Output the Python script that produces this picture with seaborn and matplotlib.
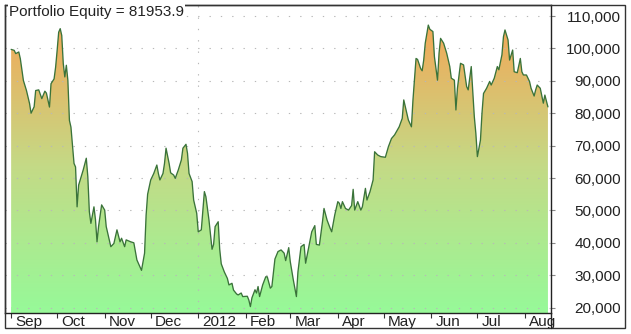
import numpy as np
import pandas as pd
import matplotlib
matplotlib.use("Agg")
import matplotlib.pyplot as plt
import seaborn as sns
import matplotlib.dates as mdates
import matplotlib.transforms as mtransforms
from matplotlib.colors import LinearSegmentedColormap
from matplotlib.ticker import FuncFormatter
from matplotlib.patches import Rectangle
from matplotlib.lines import Line2D

# ---------------- data ----------------
start_date = "2011-09-01"
day_offsets = [
    0, 2, 3, 5, 6, 8, 10, 12, 13, 15, 16, 18, 20, 22, 23, 25, 26, 28, 29, 30,
    31, 32, 33, 34, 35, 36, 37, 38, 39, 41, 42, 43, 44, 45, 47, 49, 50, 51, 52, 54,
    55, 56, 57, 59, 61, 62, 65, 67, 69, 71, 72, 74, 75, 78, 80, 82, 85, 87, 88, 89,
    91, 93, 95, 96, 97, 99, 100, 101, 103, 104, 106, 107, 109, 111, 112, 114, 115, 116, 118, 119,
    121, 122, 124, 125, 126, 127, 129, 131, 132, 133, 135, 136, 137, 139, 141, 142, 144, 145, 147, 148,
    150, 151, 154, 155, 156, 157, 159, 160, 161, 162, 164, 166, 167, 169, 170, 172, 174, 176, 178, 179,
    181, 182, 184, 186, 187, 189, 191, 192, 195, 196, 198, 199, 201, 203, 204, 206, 208, 209, 211, 213,
    214, 215, 216, 218, 220, 222, 223, 224, 226, 228, 229, 231, 232, 234, 236, 237, 239, 241, 244, 246,
    248, 250, 253, 255, 256, 258, 259, 261, 262, 264, 265, 267, 268, 269, 270, 272, 273, 275, 276, 278,
    279, 280, 282, 284, 286, 287, 289, 290, 291, 293, 295, 297, 298, 300, 301, 302, 303, 304, 306, 307,
    308, 310, 312, 313, 315, 317, 318, 320, 321, 322, 324, 325, 327, 328, 330, 332, 333, 334, 336, 338,
    339, 341, 342, 343, 345, 347, 348, 350,
]
equity = [
    99700, 99400, 98400, 98900, 96800, 90100, 87000, 83000, 80000, 82000, 87000, 87200, 84500, 86800, 86200, 81900, 89100, 90600, 94200, 99400,
    105000, 106100, 104000, 95300, 91200, 94800, 90100, 77800, 75700, 64500, 63400, 51100, 57800, 59400, 62500, 66100, 60400, 49600, 46000, 51100,
    47100, 40300, 45000, 51700, 50100, 45000, 38800, 39800, 44000, 40300, 41400, 38800, 40900, 40300, 40000, 34700, 31500, 36800, 48500, 55000,
    59400, 61400, 64000, 61400, 59400, 61400, 64500, 69200, 64500, 61600, 60900, 59900, 62500, 65600, 69200, 70400, 67600, 61400, 58900, 53200,
    49100, 43400, 44000, 50100, 55800, 54200, 47000, 38000, 39500, 45000, 46500, 38000, 33500, 31000, 29000, 27000, 27500, 25400, 24200, 23900,
    24500, 23400, 23500, 22300, 20300, 23000, 25500, 24500, 26500, 23400, 27000, 29500, 29500, 26000, 26500, 35000, 37300, 37800, 36800, 34500,
    38500, 34200, 28500, 23400, 31000, 38800, 39500, 33700, 41000, 43400, 45300, 39500, 39300, 46500, 50600, 47000, 44500, 43400, 48600, 52700,
    52200, 50600, 52700, 50600, 50100, 51500, 56500, 50100, 52700, 50100, 51100, 56800, 53200, 55800, 59400, 68100, 67100, 66600, 66400, 69700,
    72200, 73300, 75800, 78400, 84100, 80000, 77900, 75800, 84100, 96900, 96600, 93800, 93100, 96400, 101600, 107200, 105900, 105200, 97400, 90200,
    98500, 103100, 101600, 98500, 94400, 90800, 90200, 81000, 87700, 95400, 94900, 88200, 87200, 94400, 86600, 78900, 73800, 66600, 71700, 80000,
    86100, 87700, 89800, 88700, 90800, 94400, 93400, 98000, 103600, 105700, 102600, 96400, 99500, 92800, 92500, 96900, 92800, 91800, 91800, 89800,
    87700, 85300, 87200, 88700, 87700, 83100, 85600, 81953.9,
]
final_equity = 81953.9
month_ticks = ["2011-09-01", "2011-10-01", "2011-11-01", "2011-12-01", "2012-01-01", "2012-02-01",
               "2012-03-01", "2012-04-01", "2012-05-01", "2012-06-01", "2012-07-01", "2012-08-01"]
month_labels = ["Sep", "Oct", "Nov", "Dec", "2012", "Feb", "Mar", "Apr", "May", "Jun", "Jul", "Aug"]
year_boundary = "2012-01-01"
y_ticks = [20000, 30000, 40000, 50000, 60000, 70000, 80000, 90000, 100000, 110000]
x_limits = ("2011-08-28", "2012-08-18")
y_limits = (18330, 113400)

# ---------------- style ----------------
sns.set_theme(style="white")
plt.rcParams["font.family"] = ["Liberation Sans", "DejaVu Sans"]

dates = pd.Timestamp(start_date) + pd.to_timedelta(day_offsets, unit="D")
df = pd.DataFrame({"date": dates, "equity": equity})

W, H = 631, 334
fig = plt.figure(figsize=(W / 100, H / 100), dpi=100)
fig.patch.set_facecolor("white")
ax = fig.add_axes([5 / W, 1 - 313 / H, (551 - 5) / W, (313 - 5) / H])
ax.set_facecolor("white")

# line
sns.lineplot(data=df, x="date", y="equity", ax=ax, color="#3a733a", linewidth=0.95, zorder=3)

# gradient fill under the curve (green at the lowest value, orange at the highest)
poly = ax.fill_between(df["date"], df["equity"], y_limits[0], facecolor="none", edgecolor="none")
xl = mdates.date2num(pd.to_datetime(list(x_limits)))
cmap = LinearSegmentedColormap.from_list("eq", ["#98f898", "#c4da86", "#f2a858"])
grad = np.linspace(0, 1, 256).reshape(-1, 1)
gmin, gmax = min(equity), max(equity)
im = ax.imshow(grad, extent=[xl[0], xl[1], gmin, gmax], origin="lower",
               aspect="auto", cmap=cmap, zorder=1, interpolation="bilinear")
im.set_clip_path(poly.get_paths()[0], transform=ax.transData)
lower = ax.fill_between(df["date"], np.minimum(df["equity"], gmin), y_limits[0],
                        facecolor="#98f898", edgecolor="none", zorder=1)

ax.set_xlim(xl[0], xl[1])
ax.set_ylim(*y_limits)

# dotted grid
grid_kw = dict(color="#b8b8b8", linewidth=0.8, linestyle=(0, (1.2, 9)), zorder=2)
for yv in y_ticks:
    ax.axhline(yv, **grid_kw)
ax.axvline(mdates.date2num(pd.Timestamp(year_boundary)), **grid_kw)

# axes / ticks
ax.yaxis.tick_right()
ax.set_yticks(y_ticks)
ax.yaxis.set_major_formatter(FuncFormatter(lambda v, p: f"{v:,.0f}"))
ax.tick_params(axis="y", which="major", right=True, left=False, direction="out", length=3,
               width=0.8, color="#888888", pad=47.4, labelsize=11, labelcolor="#222222")
for lbl in ax.get_yticklabels():
    lbl.set_horizontalalignment("right")

ax.set_xticks(mdates.date2num(pd.to_datetime(month_ticks)))
ax.set_xticklabels(month_labels)
ax.tick_params(axis="x", which="major", bottom=True, direction="out", length=3.6, width=0.8,
               color="#333333", pad=-2.5, labelsize=11, labelcolor="#222222")
offset = mtransforms.ScaledTranslation(4 / 100, 0, fig.dpi_scale_trans)
for lbl in ax.get_xticklabels():
    lbl.set_horizontalalignment("left")
    lbl.set_transform(lbl.get_transform() + offset)

ax.set_xlabel("")
ax.set_ylabel("")
for s in ax.spines.values():
    s.set_color("#222222")
    s.set_linewidth(1.0)

# title inside plot
fig.text(9 / W, 1 - 12 / H, f"Portfolio Equity = {final_equity:.1f}", ha="left", va="center",
         fontsize=11, color="#222222",
         bbox=dict(facecolor="white", edgecolor="none", pad=0.5), zorder=10)

# outer frame and right spine extension
fig.add_artist(Rectangle((5 / W, 1 - 328 / H), (625 - 5) / W, (328 - 5) / H,
                         transform=fig.transFigure, fill=False, edgecolor="#333333", linewidth=1.0))
fig.add_artist(Line2D([551 / W, 551 / W], [1 - 313 / H, 1 - 328 / H],
                      transform=fig.transFigure, color="#222222", linewidth=1.0))

fig.savefig("out.png", dpi=100, facecolor="white")
